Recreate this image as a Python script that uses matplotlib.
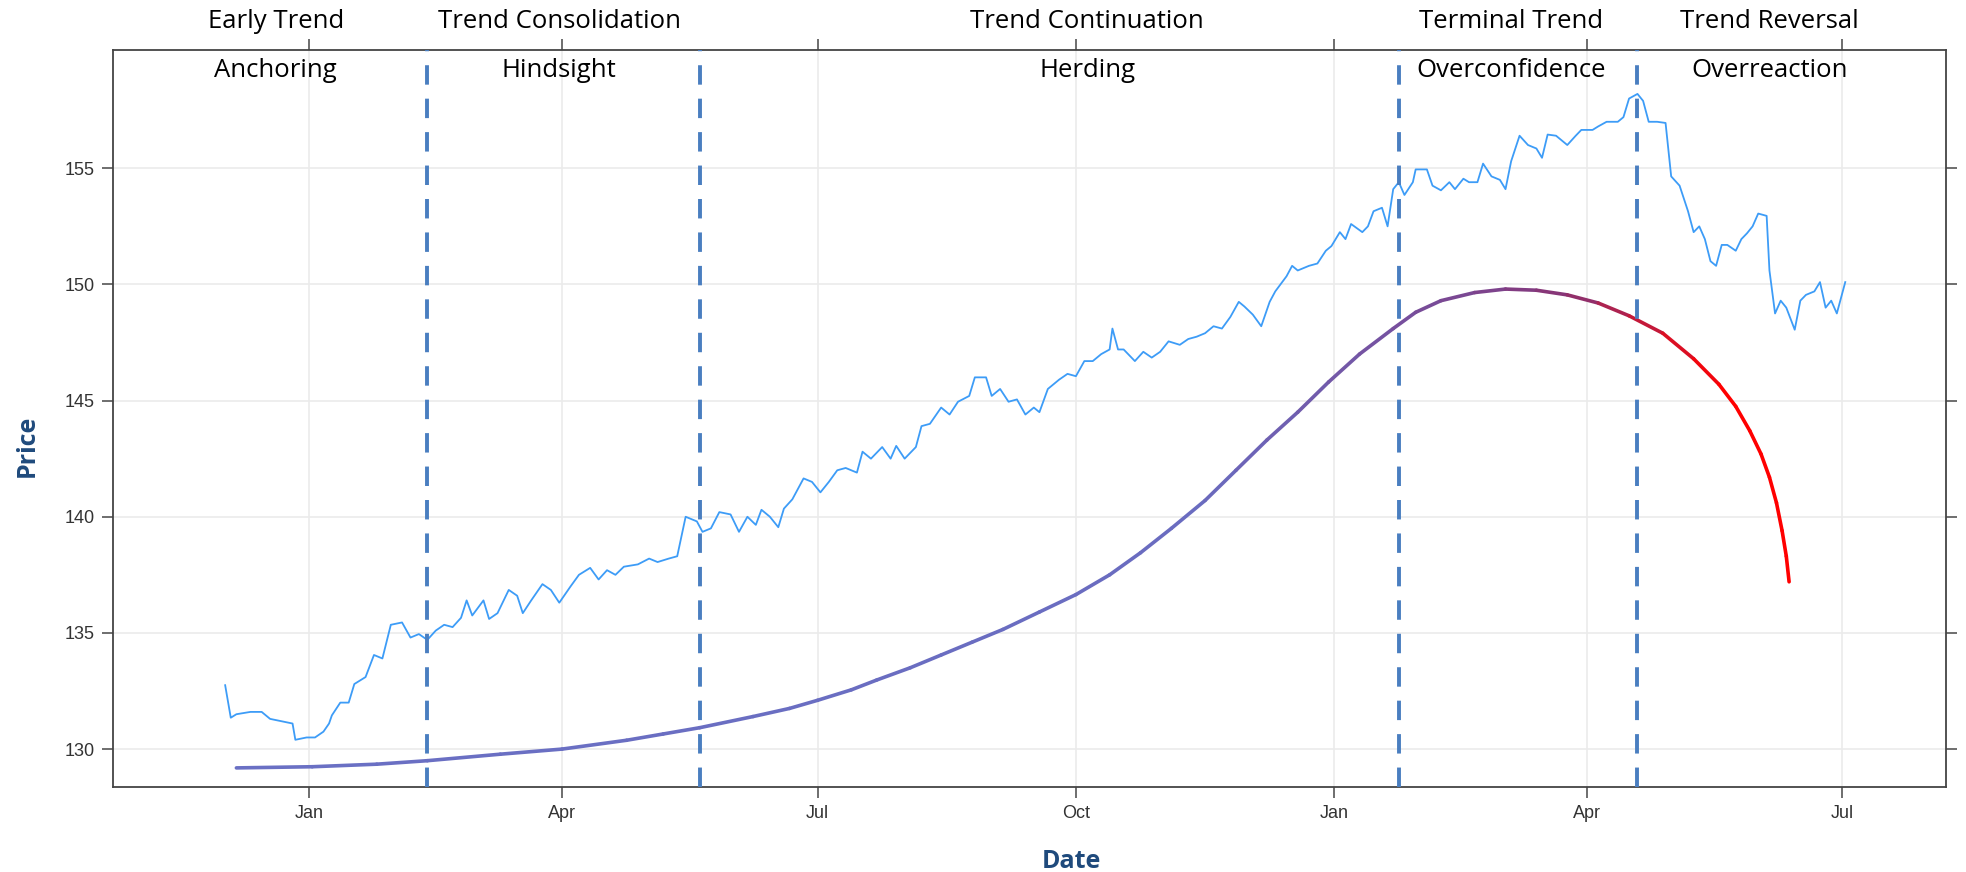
import matplotlib
matplotlib.use("Agg")
import matplotlib.pyplot as plt
import matplotlib.dates as mdates
from matplotlib.collections import LineCollection
from matplotlib.colors import LinearSegmentedColormap
import numpy as np
import pandas as pd

start = pd.Timestamp("2016-12-02")

# price series: day offset from start, close price
price_days = [0, 2, 4, 9, 13, 16, 20, 24, 25, 29, 32, 35, 37, 38, 41, 44, 46, 50, 53, 56,
              59, 63, 66, 69, 72, 75, 78, 81, 84, 86, 88, 92, 94, 97, 101, 104, 106, 109, 113, 116,
              119, 123, 126, 130, 133, 136, 139, 142, 147, 151, 154, 158, 161, 164, 168, 170, 173, 176, 180, 183,
              186, 189, 191, 194, 197, 199, 202, 206, 209, 212, 215, 218, 221, 225, 227, 230, 234, 237, 239, 242,
              246, 248, 251, 255, 258, 261, 265, 267, 271, 273, 276, 279, 282, 285, 288, 290, 293, 297, 300, 303,
              306, 309, 312, 315, 316, 318, 320, 324, 327, 330, 333, 336, 340, 343, 346, 349, 352, 355, 358, 361,
              363, 366, 369, 372, 374, 378, 380, 382, 386, 389, 392, 394, 397, 399, 401, 405, 407, 409, 412, 414,
              416, 418, 420, 423, 424, 428, 430, 433, 436, 438, 441, 443, 446, 448, 451, 454, 456, 458, 461, 464,
              467, 469, 471, 474, 478, 481, 483, 487, 489, 492, 496, 498, 500, 503, 505, 507, 510, 513, 515, 518,
              521, 523, 525, 527, 529, 531, 533, 535, 538, 540, 542, 544, 546, 549, 550, 552, 554, 556, 559, 561,
              563, 566, 568, 570, 572, 574, 577]
price_values = [132.75, 131.35, 131.5, 131.6, 131.6, 131.3, 131.2, 131.1, 130.4, 130.5, 130.5, 130.75, 131.1, 131.45, 132.0, 132.0, 132.8, 133.1, 134.05, 133.9,
                135.35, 135.45, 134.8, 134.95, 134.7, 135.1, 135.35, 135.25, 135.65, 136.4, 135.75, 136.4, 135.6, 135.85, 136.85, 136.6, 135.85, 136.4, 137.1, 136.85,
                136.3, 137.0, 137.5, 137.8, 137.3, 137.7, 137.5, 137.85, 137.95, 138.2, 138.05, 138.2, 138.3, 140.0, 139.8, 139.35, 139.5, 140.2, 140.1, 139.35,
                140.0, 139.65, 140.3, 140.0, 139.55, 140.35, 140.75, 141.65, 141.5, 141.05, 141.5, 142.0, 142.1, 141.9, 142.8, 142.5, 143.0, 142.5, 143.05, 142.5,
                143.0, 143.9, 144.0, 144.7, 144.4, 144.95, 145.2, 146.0, 146.0, 145.2, 145.5, 144.95, 145.05, 144.4, 144.7, 144.5, 145.5, 145.9, 146.15, 146.05,
                146.7, 146.7, 147.0, 147.2, 148.1, 147.2, 147.2, 146.7, 147.1, 146.85, 147.1, 147.55, 147.4, 147.65, 147.75, 147.9, 148.2, 148.1, 148.6, 149.25,
                149.05, 148.7, 148.2, 149.25, 149.7, 150.35, 150.8, 150.6, 150.8, 150.9, 151.45, 151.65, 152.25, 151.95, 152.6, 152.25, 152.5, 153.15, 153.3, 152.5,
                154.1, 154.4, 153.85, 154.4, 154.95, 154.95, 154.25, 154.05, 154.4, 154.1, 154.55, 154.4, 154.4, 155.2, 154.65, 154.5, 154.1, 155.3, 156.4, 156.0,
                155.85, 155.45, 156.45, 156.4, 156.0, 156.4, 156.65, 156.65, 156.8, 157.0, 157.0, 157.2, 158.0, 158.2, 157.9, 157.0, 157.0, 156.95, 154.65, 154.25,
                153.15, 152.25, 152.5, 151.95, 151.0, 150.8, 151.7, 151.7, 151.45, 151.95, 152.2, 152.5, 153.05, 152.95, 150.6, 148.75, 149.3, 149.0, 148.05, 149.3,
                149.55, 149.7, 150.1, 149.0, 149.3, 148.75, 150.1]

# fitted curve: day offset and value
fit_days = [4, 31, 54, 72, 98, 120, 143, 156, 169, 188, 201, 211, 223, 232, 244, 255, 266, 277,
            290, 303, 315, 326, 337, 349, 360, 371, 382, 393, 404, 416, 424, 433, 445, 456, 467,
            478, 489, 500, 512, 523, 532, 538, 543, 547, 550, 552.5, 554.5, 556, 557]
fit_values = [129.19, 129.24, 129.35, 129.5, 129.78, 130.0, 130.38, 130.65, 130.92, 131.4, 131.75, 132.1,
              132.55, 132.97, 133.5, 134.05, 134.6, 135.15, 135.9, 136.65, 137.5, 138.45, 139.5, 140.7,
              142.0, 143.3, 144.5, 145.8, 147.0, 148.1, 148.8, 149.3, 149.65, 149.8, 149.75, 149.55,
              149.2, 148.65, 147.9, 146.8, 145.7, 144.75, 143.7, 142.7, 141.7, 140.6, 139.4, 138.3, 137.2]

phase_breaks = ["2017-02-12", "2017-05-20", "2018-01-24", "2018-04-19"]
phase_centers = ["2016-12-20", "2017-03-31", "2017-10-05", "2018-03-05", "2018-06-05"]
phase_names = ["Early Trend", "Trend Consolidation", "Trend Continuation", "Terminal Trend", "Trend Reversal"]
bias_names = ["Anchoring", "Hindsight", "Herding", "Overconfidence", "Overreaction"]

price_dates = start + pd.to_timedelta(price_days, unit="D")
fit_dates = start + pd.to_timedelta(fit_days, unit="D")

fig = plt.figure(figsize=(19.66, 8.72), dpi=100)
ax = fig.add_axes([0.0574, 0.0978, 0.9326, 0.8446])

ax.plot(price_dates, price_values, color="#3d9cf7", lw=1.3, zorder=3)

# gradient coloured fit line
xs = mdates.date2num(fit_dates)
pts = np.column_stack([xs, fit_values]).reshape(-1, 1, 2)
segs = np.concatenate([pts[:-1], pts[1:]], axis=1)
cmap = LinearSegmentedColormap.from_list(
    "fit", [(0.0, "#6a70c4"), (0.62, "#6a6cc0"), (0.8, "#7b4590"), (0.86, "#8a3272"),
            (0.96, "#ff0000"), (1.0, "#ff0000")])
frac = (xs[:-1] + xs[1:]) / 2
frac = (frac - xs[0]) / (xs[-1] - xs[0])
lc = LineCollection(segs, colors=cmap(frac), linewidths=2.6, capstyle="round", joinstyle="round", zorder=4)
ax.add_collection(lc)

for d in phase_breaks:
    ax.axvline(pd.Timestamp(d), color="#4a7ec0", lw=2.8, ls=(0, (5, 3.6)), zorder=5)

trans = ax.get_xaxis_transform()
for d, p, b in zip(phase_centers, phase_names, bias_names):
    ax.text(pd.Timestamp(d), 1.039, p, transform=trans, ha="center", va="center",
            fontsize=18.5, family="Open Sans", color="black")
    ax.text(pd.Timestamp(d), 0.973, b, transform=trans, ha="center", va="center",
            fontsize=18.5, family="Open Sans", color="black")

ax.set_xlim(pd.Timestamp("2016-10-23"), pd.Timestamp("2018-08-07"))
ax.set_ylim(128.38, 160.08)
ax.set_yticks([130, 135, 140, 145, 150, 155])
ax.xaxis.set_major_locator(mdates.MonthLocator(bymonth=[1, 4, 7, 10]))
ax.xaxis.set_major_formatter(mdates.DateFormatter("%b"))

ax.grid(True, color="#ebebeb", lw=1.2)
ax.set_axisbelow(True)
for s in ax.spines.values():
    s.set_color("#444444")
    s.set_linewidth(1.3)
ax.tick_params(axis="both", which="both", direction="out", length=8, width=1.2, color="#555555",
               top=True, right=True, labelsize=13, labelcolor="#333333", pad=5)
for lab in ax.get_xticklabels() + ax.get_yticklabels():
    lab.set_family("Liberation Sans")

ax.set_xlabel("Date", fontsize=18, fontweight="bold", color="#1f4a7c", family="Open Sans")
ax.set_ylabel("Price", fontsize=18, fontweight="bold", color="#1f4a7c", family="Open Sans")
ax.xaxis.set_label_coords(0.523, -0.085)
ax.yaxis.set_label_coords(-0.04, 0.463)

fig.savefig("out.png", dpi=100)
